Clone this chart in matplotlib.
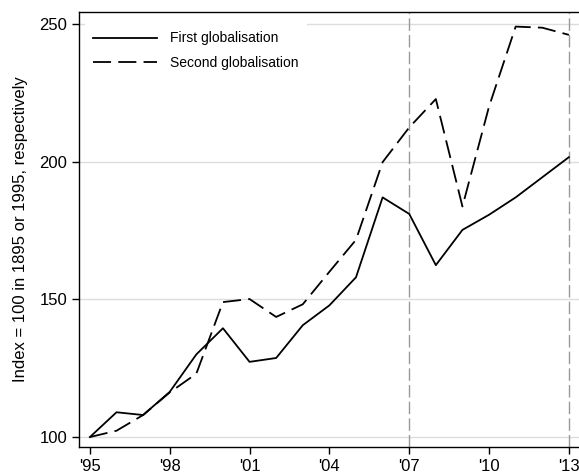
import numpy as np
import matplotlib
matplotlib.use("Agg")
import matplotlib.pyplot as plt

plt.rcParams['font.family'] = ['Liberation Sans', 'DejaVu Sans']

years = np.arange(1995, 2014)
first_glob = [100, 109, 108, 116.4, 130, 139.5, 127.3, 128.7, 140.6, 147.8,
              158, 187, 181, 162.4, 175.2, 180.7, 187, 194.3, 201.6]
second_glob = [100, 102.3, 108, 116.2, 123, 149, 150.1, 143.6, 148.2, 160,
               171.6, 199.8, 212.4, 222.7, 183.7, 220, 249, 248.6, 246]
xticks = [1995, 1998, 2001, 2004, 2007, 2010, 2013]
xticklabels = ["'95", "'98", "'01", "'04", "'07", "'10", "'13"]
yticks = [100, 150, 200, 250]
vlines = [2007, 2013]

fig = plt.figure(figsize=(5.79, 4.72), dpi=100)
ax = fig.add_axes([0.1364, 0.053, 0.8636, 0.9216])

for y in yticks:
    ax.axhline(y, color='#dddddd', lw=1.0, zorder=0)
for x in vlines:
    ax.axvline(x, color='#999999', lw=1.0, dashes=(9, 3), zorder=1)

ax.plot(years, first_glob, color='black', lw=1.3, label='First globalisation')
ax.plot(years, second_glob, color='black', lw=1.3, dashes=(10, 4),
        label='Second globalisation')

ax.set_xlim(1994.59, 2013.38)
ax.set_ylim(96.4, 254.3)
ax.set_xticks(xticks)
ax.set_xticklabels(xticklabels)
ax.set_yticks(yticks)
ax.tick_params(axis='both', labelsize=12, length=5, direction='out', width=1)
ax.set_ylabel('Index = 100 in 1895 or 1995, respectively', fontsize=12, labelpad=8)

for s in ['left', 'bottom', 'top']:
    ax.spines[s].set_linewidth(1.0)
ax.spines['right'].set_visible(False)

leg = ax.legend(loc='upper left', bbox_to_anchor=(0.004, 0.984), fontsize=10,
                frameon=True, fancybox=False, handlelength=4.6,
                handletextpad=0.9, labelspacing=0.75,
                borderaxespad=0.3, borderpad=0.6)
leg.get_frame().set_edgecolor('none')
leg.get_frame().set_facecolor('white')
leg.get_frame().set_alpha(1.0)

fig.savefig('out.png', dpi=100)
